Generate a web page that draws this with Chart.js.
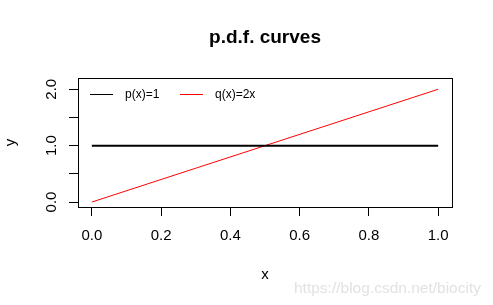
<!DOCTYPE html>
<html><head><meta charset="utf-8">
<script src="https://cdn.jsdelivr.net/npm/chart.js@4/dist/chart.umd.min.js"></script>
<style>html,body{margin:0;padding:0;background:#fff;overflow:hidden;} canvas{display:block;}</style>
</head><body>
<canvas id="c" width="493" height="305"></canvas>
<script>
// ---- data ----
const xValues = [0, 0.5, 1];
const pValues = [1, 1, 1];
const qValues = [0, 1, 2];
const xTickValues = [0, 0.2, 0.4, 0.6, 0.8, 1.0];
const yTickValues = [0, 0.5, 1, 1.5, 2];
const yLabeledTicks = [0, 1, 2];
const seriesLabels = ['p(x)=1', 'q(x)=2x'];
const seriesColors = ['#000000', '#ff0000'];
const titleText = 'p.d.f. curves';
const xTitle = 'x';
const yTitle = 'y';
const watermark = 'https://blog.csdn.net/biocity';

const FAMILY = "'Liberation Sans', Arial, Helvetica, sans-serif";

const rDecor = {
  id: 'rDecor',
  afterDraw(chart) {
    const ctx = chart.ctx, ca = chart.chartArea;
    ctx.save();
    // plot box
    ctx.strokeStyle = '#000';
    ctx.lineWidth = 1;
    ctx.strokeRect(Math.round(ca.left) + 0.5, Math.round(ca.top) + 0.5,
      Math.round(ca.right) - Math.round(ca.left), Math.round(ca.bottom) - Math.round(ca.top));
    // title
    ctx.fillStyle = '#000';
    ctx.font = 'bold 19px ' + FAMILY;
    ctx.textAlign = 'center';
    ctx.textBaseline = 'alphabetic';
    ctx.fillText(titleText, (ca.left + ca.right) / 2, 43);
    // legend (top-left inside plot)
    ctx.font = '12px ' + FAMILY;
    ctx.textAlign = 'left';
    ctx.textBaseline = 'middle';
    const legX = [90, 180];
    const legY = 94.5;
    seriesLabels.forEach((lab, i) => {
      ctx.strokeStyle = seriesColors[i];
      ctx.lineWidth = 1;
      ctx.beginPath();
      ctx.moveTo(legX[i], legY);
      ctx.lineTo(legX[i] + 23, legY);
      ctx.stroke();
      ctx.fillStyle = '#000';
      ctx.fillText(lab, legX[i] + 35, legY + 0.5);
    });
    // watermark
    ctx.font = '15.5px ' + FAMILY;
    ctx.fillStyle = '#e2e2e2';
    ctx.textBaseline = 'alphabetic';
    ctx.fillText(watermark, 294, 293);
    ctx.restore();
  }
};

new Chart(document.getElementById('c'), {
  type: 'scatter',
  data: {
    datasets: [
      {
        label: seriesLabels[0],
        data: xValues.map((x, i) => ({x: x, y: pValues[i]})),
        showLine: true, borderColor: seriesColors[0], backgroundColor: seriesColors[0],
        borderWidth: 2, pointRadius: 0, tension: 0
      },
      {
        label: seriesLabels[1],
        data: xValues.map((x, i) => ({x: x, y: qValues[i]})),
        showLine: true, borderColor: seriesColors[1], backgroundColor: seriesColors[1],
        borderWidth: 1, pointRadius: 0, tension: 0
      }
    ]
  },
  options: {
    responsive: false,
    animation: false,
    devicePixelRatio: 1,
    layout: {padding: {top: 78, left: 0, right: 41, bottom: 0}},
    plugins: {legend: {display: false}, title: {display: false}, tooltip: {enabled: false}},
    scales: {
      x: {
        type: 'linear', position: 'bottom', min: -0.04, max: 1.04,
        border: {display: false},
        grid: {display: true, drawOnChartArea: false, drawTicks: true, tickLength: 9, color: '#000', lineWidth: 1},
        ticks: {
          font: {family: FAMILY, size: 15}, color: '#000', padding: 11,
          maxRotation: 0, autoSkip: false,
          callback: v => Number(v).toFixed(1)
        },
        afterBuildTicks: s => { s.ticks = xTickValues.map(v => ({value: v})); },
        afterFit: s => { s.height = 98; },
        title: {display: true, text: xTitle, font: {family: FAMILY, size: 15}, color: '#000', padding: {top: 0, bottom: 21}}
      },
      y: {
        type: 'linear', position: 'left', min: -0.088, max: 2.2,
        border: {display: false},
        grid: {display: true, drawOnChartArea: false, drawTicks: true, tickLength: 9, color: '#000', lineWidth: 1},
        ticks: {
          font: {family: FAMILY, size: 15}, color: '#000', padding: 7,
          minRotation: 90, maxRotation: 90, autoSkip: false, crossAlign: 'center',
          callback: v => yLabeledTicks.includes(Number(v)) ? Number(v).toFixed(1) : ''
        },
        afterBuildTicks: s => { s.ticks = yTickValues.map(v => ({value: v})); },
        afterFit: s => { s.width = 78; },
        title: {display: true, text: yTitle, font: {family: FAMILY, size: 15}, color: '#000', padding: {top: 2, bottom: 0}}
      }
    }
  },
  plugins: [rDecor]
});
</script>
</body></html>
